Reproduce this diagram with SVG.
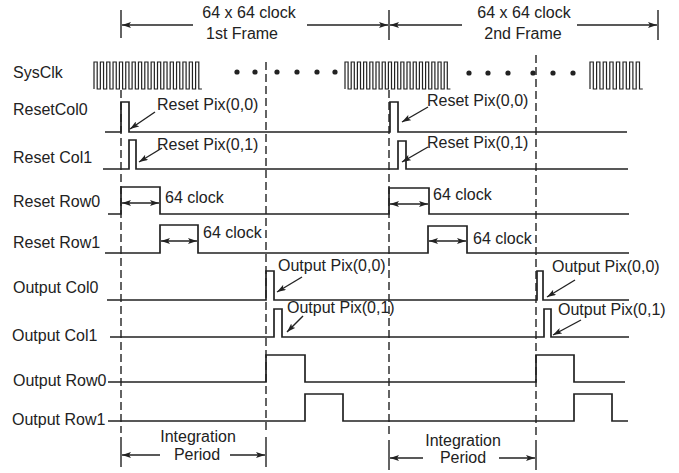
<svg xmlns="http://www.w3.org/2000/svg" width="679" height="473" viewBox="0 0 679 473">
<defs>
<marker id="ah" viewBox="0 0 9 6" refX="9" refY="3" markerWidth="9" markerHeight="6" markerUnits="userSpaceOnUse" orient="auto-start-reverse"><path d="M0,0 L9,3 L0,6 L2,3 z" fill="#222"/></marker>
<style>
text{font-family:"Liberation Sans",Arial,sans-serif;font-size:16px;fill:#222}
.c{text-anchor:middle}
.sig{fill:none;stroke:#222;stroke-width:1.7}
.clk{fill:none;stroke:#222;stroke-width:1.2}
.dash{fill:none;stroke:#222;stroke-width:1.4;stroke-dasharray:8,4}
.tk{fill:none;stroke:#222;stroke-width:1.4}
.ar{fill:none;stroke:#222;stroke-width:1.4;marker-end:url(#ah)}
.ar2{fill:none;stroke:#222;stroke-width:1.4;marker-start:url(#ah);marker-end:url(#ah)}
</style>
</defs>
<rect width="679" height="473" fill="#fff"/>

<g id="frame-header">
<path class="tk" d="M121,10V38M389,10V40M658,10V40"/>
<text class="c" x="249" y="18">64 x 64 clock</text>
<text class="c" x="242" y="39">1st Frame</text>
<text class="c" x="524" y="18">64 x 64 clock</text>
<text class="c" x="523" y="39">2nd Frame</text>
</g>

<g id="dashed-guides">
<path class="dash" d="M121,90V433M266,62V433M389,90V436M536,55V436"/>
</g>

<g id="sysclk">
<text x="13" y="78">SysClk</text>
<path class="clk" d="M94,89v-27h3.2v27h3.15v-27h3.2v27h3.15v-27h3.2v27h3.15v-27h3.2v27h3.15v-27h3.2v27h3.15v-27h3.2v27h3.15v-27h3.2v27h3.15v-27h3.2v27h3.15v-27h3.2v27h3.15v-27h3.2v27h3.15v-27h3.2v27h3.15v-27h3.2v27h3.15v-27h3.2v27h3.15v-27h3.2v27h3.15v-27h3.2v27h3.15v-27h3.2v27h3.15v-27h3.2v27h3.15"/>
<path class="clk" d="M345,89v-27h3.1v27h3.1v-27h3.1v27h3.1v-27h3.1v27h3.1v-27h3.1v27h3.1v-27h3.1v27h3.1v-27h3.1v27h3.1v-27h3.1v27h3.1v-27h3.1v27h3.1v-27h3.1v27h3.1v-27h3.1v27h3.1v-27h3.1v27h3.1v-27h3.1v27h3.1v-27h3.1v27h3.1v-27h3.1v27h3.1v-27h3.1v27h3.1v-27h3.1v27h3.1v-27h3.1v27h3.1"/>
<path class="clk" d="M590,89v-27h3.3v27h3.3v-27h3.3v27h3.3v-27h3.3v27h3.3v-27h3.3v27h3.3v-27h3.3v27h3.3v-27h3.3v27h3.3v-27h3.3v27h3.3v-27h3.3v27h3.3"/>
<g fill="#222">
<circle cx="237" cy="72" r="2.6"/><circle cx="255" cy="72" r="2.6"/><circle cx="277" cy="72" r="2.6"/><circle cx="297" cy="72" r="2.6"/><circle cx="317" cy="72" r="2.6"/><circle cx="335" cy="72" r="2.6"/>
<circle cx="469" cy="73" r="2.6"/><circle cx="488" cy="73" r="2.6"/><circle cx="508" cy="73" r="2.6"/><circle cx="533" cy="73" r="2.6"/><circle cx="553" cy="73" r="2.6"/><circle cx="573" cy="73" r="2.6"/>
</g>
</g>

<g id="reset-col0">
<text x="13" y="115">ResetCol0</text>
<path class="sig" d="M105,132H121V102H129V132H390V102H398V132H627"/>
<text x="157" y="110">Reset Pix(0,0)</text>
<text x="427" y="106">Reset Pix(0,0)</text>
</g>

<g id="reset-col1">
<text x="13" y="163">Reset Col1</text>
<path class="sig" d="M103,169H129V140H136V169H398V141H406V169H628"/>
<text x="157" y="150">Reset Pix(0,1)</text>
<text x="427" y="148">Reset Pix(0,1)</text>
</g>

<g id="reset-row0">
<text x="13" y="207">Reset Row0</text>
<path class="sig" d="M108,214H121V187H160V214H389V188H429V214H629"/>
<text x="165" y="203">64 clock</text>
<text x="433" y="200">64 clock</text>
</g>

<g id="reset-row1">
<text x="13" y="248">Reset Row1</text>
<path class="sig" d="M105,253H160V225H198V253H428V226H467V253H629"/>
<text x="203" y="238">64 clock</text>
<text x="473" y="244">64 clock</text>
</g>

<g id="output-col0">
<text x="13" y="293">Output Col0</text>
<path class="sig" d="M107,300H266V271H274V300H537V271H543V300H629"/>
<text x="278" y="271">Output Pix(0,0)</text>
<text x="552" y="272">Output Pix(0,0)</text>
</g>

<g id="output-col1">
<text x="12" y="341">Output Col1</text>
<path class="sig" d="M110,337H274V309H282V337H544V309H551V337H629"/>
<text x="287" y="313">Output Pix(0,1)</text>
<text x="558" y="315">Output Pix(0,1)</text>
</g>

<g id="output-row0">
<text x="13" y="386">Output Row0</text>
<path class="sig" d="M108,382H266V355H305V382H536V355H574V382H625"/>
</g>

<g id="output-row1">
<text x="12" y="425">Output Row1</text>
<path class="sig" d="M108,421H305V394H343V421H574V394H612V421H628"/>
</g>

<g id="integration">
<path class="tk" d="M121,437V467M266,437V467M389,440V470M536,440V470"/>
<text class="c" x="198" y="442">Integration</text>
<text class="c" x="197" y="460">Period</text>
<text class="c" x="463" y="446">Integration</text>
<text class="c" x="463" y="463">Period</text>
</g>

<g id="connectors">
<path class="ar" d="M193,25H122"/>
<path class="ar" d="M307,25H388"/>
<path class="ar" d="M462,25H390"/>
<path class="ar" d="M577,25H657"/>
<path class="ar" d="M155,112L130,129"/>
<path class="ar" d="M162,148L139,162"/>
<path class="ar" d="M428,107L402,122"/>
<path class="ar" d="M428,147L402,162"/>
<path class="ar2" d="M122,203H159"/>
<path class="ar2" d="M161,241H197"/>
<path class="ar2" d="M390,204H428"/>
<path class="ar2" d="M429,241H466"/>
<path class="ar" d="M302,277L277,292"/>
<path class="ar" d="M303,316L287,332"/>
<path class="ar" d="M575,280L547,297"/>
<path class="ar" d="M581,320L553,335"/>
<path class="ar" d="M160,455H122"/>
<path class="ar" d="M230,455H265"/>
<path class="ar" d="M423,458H390"/>
<path class="ar" d="M499,458H535"/>
</g>
</svg>
